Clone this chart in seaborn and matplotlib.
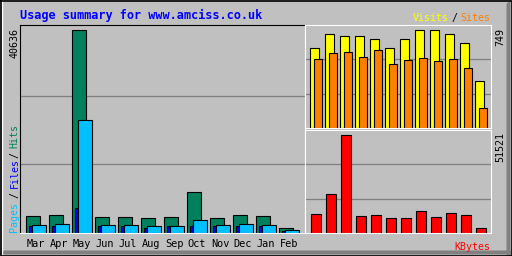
import matplotlib
matplotlib.use("Agg")
import matplotlib.pyplot as plt
import seaborn as sns
import numpy as np
from matplotlib.patches import Polygon

# ---------------- data ----------------
months = ["Mar", "Apr", "May", "Jun", "Jul", "Aug", "Sep", "Oct", "Nov", "Dec", "Jan", "Feb"]
hits = [3300, 3500, 40636, 3100, 3100, 2900, 3100, 8090, 2900, 3500, 3300, 900]
files = [1500, 1700, 22660, 1500, 1500, 1300, 1300, 2500, 1500, 1700, 1500, 500]
pages = [1300, 1300, 5080, 1300, 1300, 900, 1300, 1300, 1300, 1300, 1300, 300]
visits = [611, 718, 696, 696, 673, 611, 680, 749, 749, 718, 650, 359]
sites = [527, 568, 575, 537, 591, 484, 514, 530, 507, 522, 453, 155]
kbytes = [10150, 20660, 51521, 9100, 9620, 8040, 8040, 11720, 8570, 10670, 9620, 2790]
title = "Usage summary for www.amciss.co.uk"
max_hits_label = "40636"
max_visits_label = "749"
max_kbytes_label = "51521"

# ---------------- style ----------------
GREY = "#c0c0c0"
DKGREY = "#808080"
C_HITS, C_FILES, C_PAGES = "#00805c", "#00c0ff", "#0000ff"
C_VISITS, C_SITES, C_KB = "#ffff00", "#ff8000", "#ff0000"
MONO = "DejaVu Sans Mono"

sns.set_style("white")
plt.rcParams["font.family"] = [MONO, "DejaVu Sans"]

W, H = 512, 256
fig = plt.figure(figsize=(W / 100, H / 100), dpi=100, facecolor=GREY)


def fx(x):
    return x / W


def fy(y):
    return 1 - y / H


def add_panel(x0, y0, x1, y1):
    ax = fig.add_axes([fx(x0), fy(y1), (x1 - x0) / W, (y1 - y0) / H], zorder=2)
    ax.set_facecolor(GREY)
    return ax


# ---------------- background frame ----------------
bg = fig.add_axes([0, 0, 1, 1], zorder=0)
bg.set_xlim(0, W)
bg.set_ylim(H, 0)
bg.axis("off")
bg.add_patch(Polygon([(506.5, 4), (510.5, 0), (510.5, 256), (506.5, 256)], closed=True,
                     facecolor=DKGREY, edgecolor="none"))
bg.add_patch(Polygon([(0, 254.5), (4, 250.5), (511, 250.5), (511, 254.5)], closed=True,
                     facecolor=DKGREY, edgecolor="none"))
bg.plot([1.5, 1.5], [1, 255], color="white", lw=1, solid_capstyle="butt")
bg.plot([0.5, 511.5, 511.5, 0.5, 0.5], [0.5, 0.5, 255.5, 255.5, 0.5], color="black", lw=1.2)


def style_spines(ax, top="black", left="black", bottom="white", right="white"):
    for s, c in (("top", top), ("left", left), ("bottom", bottom), ("right", right)):
        ax.spines[s].set_color(c)
        ax.spines[s].set_linewidth(0.8)
        ax.spines[s].set_zorder(5)


def draw_bars(ax, x, y, width, color):
    sns.barplot(x=x, y=y, native_scale=True, width=width, color=color, saturation=1,
                edgecolor="black", linewidth=0.8, errorbar=None, ax=ax)


def grid_thirds(ax, top):
    for f in (1 / 3, 2 / 3):
        ax.axhline(top * f, color=DKGREY, lw=0.9, zorder=0.5)


idx = np.arange(len(months))

# ---------------- left panel: hits / files / pages ----------------
axL = add_panel(20, 25, 305, 233)
draw_bars(axL, idx, hits, 14 / 23, C_HITS)
draw_bars(axL, idx + 1 / 23, pages, 10 / 23, C_PAGES)
draw_bars(axL, idx + 6 / 23, files, 14 / 23, C_FILES)
topL = max(hits) * 208 / 203.5
axL.set_ylim(0, topL)
axL.set_xlim((20 - 33) / 23, (305 - 33) / 23)
grid_thirds(axL, topL * 0.99)
axL.set_yticks([])
axL.set_xticks(idx + 3 / 23)
axL.set_xticklabels(months, fontsize=7.4, family=MONO, color="black")
axL.tick_params(axis="x", length=0, pad=4.2)
axL.set_xlabel("")
axL.set_ylabel("")
style_spines(axL)

# ---------------- right top: visits / sites ----------------
axV = add_panel(305, 25, 491, 128)
draw_bars(axV, idx, visits, 9 / 15, C_VISITS)
draw_bars(axV, idx + 3.5 / 15, sites, 8 / 15, C_SITES)
topV = max(visits) * 103 / 98.5
axV.set_ylim(0, topV)
axV.set_xlim((305 - 314.5) / 15, (491 - 314.5) / 15)
grid_thirds(axV, topV)
axV.set_xticks([])
axV.set_yticks([])
axV.set_xlabel("")
axV.set_ylabel("")
style_spines(axV, top="white", left="white")

# ---------------- right bottom: kbytes ----------------
axK = add_panel(305, 130, 491, 233)
draw_bars(axK, idx + 1.5 / 15, kbytes, 10 / 15, C_KB)
topK = max(kbytes) * 103 / 98.5
axK.set_ylim(0, topK)
axK.set_xlim((305 - 314.5) / 15, (491 - 314.5) / 15)
grid_thirds(axK, topK)
axK.set_xticks([])
axK.set_yticks([])
axK.set_xlabel("")
axK.set_ylabel("")
style_spines(axK, top="white", left="white")

# ---------------- texts ----------------
fig.text(fx(19.5), fy(18.5), title, color="#0000ff", fontsize=8.6, fontweight="bold",
         family=MONO, ha="left", va="baseline")

small = dict(fontsize=7.2, family=MONO)
fig.text(fx(490), fy(21), "Sites", color=C_SITES, ha="right", va="baseline", **small)
fig.text(fx(457), fy(21), "/", color="black", ha="right", va="baseline", **small)
fig.text(fx(448.5), fy(21), "Visits", color=C_VISITS, ha="right", va="baseline", **small)

fig.text(fx(490), fy(250.5), "KBytes", color=C_KB, ha="right", va="baseline", **small)

# vertical legend at left
for txt, col, ybot in [("Pages", C_FILES, 232.5), ("/", "black", 197.5), ("Files", C_PAGES, 187.5),
                       ("/", "black", 158), ("Hits", C_HITS, 148)]:
    fig.text(fx(14.5), fy(ybot), txt, color=col, rotation=90, ha="center", va="bottom", **small)

fig.text(fx(14.5), fy(28), max_hits_label, color="black", rotation=90, ha="center", va="top", **small)
fig.text(fx(500), fy(28), max_visits_label, color="black", rotation=90, ha="center", va="top", **small)
fig.text(fx(500), fy(132), max_kbytes_label, color="black", rotation=90, ha="center", va="top", **small)

fig.savefig("out.png", dpi=100, facecolor=GREY)
